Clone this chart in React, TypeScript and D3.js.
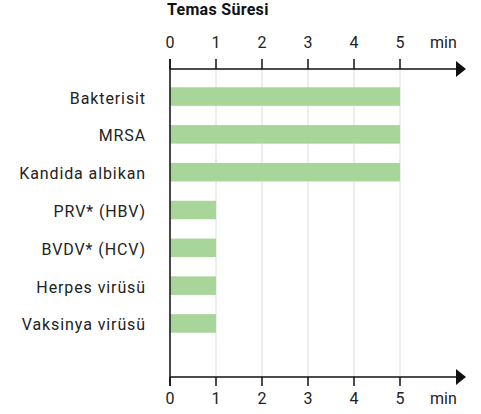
import React from "react";
import * as d3 from "d3";

const categories = ["Bakterisit", "MRSA", "Kandida albikan", "PRV* (HBV)", "BVDV* (HCV)", "Herpes virüsü", "Vaksinya virüsü"];
const values = [5, 5, 5, 1, 1, 1, 1];
const ticks = [0, 1, 2, 3, 4, 5];
const title = "Temas Süresi";
const unit = "min";

export default function App() {
  const W = 481, H = 414;
  const x = d3.scaleLinear().domain([0, 5]).range([170, 400]);
  const y = d3.scaleBand<string>().domain(categories).range([68, 352]).padding(0.51);
  const topY = 69, botY = 377;
  const font = "Roboto, 'Liberation Sans', sans-serif";
  const axisEnd = 458;
  return (
    <svg width={W} height={H} style={{ position: "absolute", left: 0, top: 0 }} fontFamily={font}>
      <rect width={W} height={H} fill="#fff" />
      <text x={167} y={15} fontSize={16} fontWeight="bold" fill="#111" letterSpacing={0.3}>{title}</text>
      {ticks.map((t) => (
        <line key={"g" + t} x1={x(t)} x2={x(t)} y1={topY} y2={botY} stroke="#dcdcdc" strokeWidth={1} />
      ))}
      {categories.map((c, i) => (
        <rect key={c} x={x(0)} y={y(c)!} width={x(values[i]) - x(0)} height={y.bandwidth()} fill="#a7d59a" />
      ))}
      {categories.map((c) => (
        <text key={"l" + c} x={146} y={y(c)! + y.bandwidth() / 2 + 7} textAnchor="end" fontSize={16} fill="#222" letterSpacing={0.9}>{c}</text>
      ))}
      {/* top axis */}
      <line x1={x(0)} x2={axisEnd} y1={topY} y2={topY} stroke="#111" strokeWidth={1.5} />
      <path d={`M${axisEnd - 2},${topY - 8} L466,${topY} L${axisEnd - 2},${topY + 8} Z`} fill="#111" />
      {ticks.map((t) => (
        <g key={"tt" + t}>
          <line x1={x(t)} x2={x(t)} y1={topY - 10} y2={topY} stroke="#111" strokeWidth={1.5} />
          <text x={x(t)} y={48} textAnchor="middle" fontSize={16} fill="#222">{t}</text>
        </g>
      ))}
      <text x={430} y={48} fontSize={16} fill="#222">{unit}</text>
      {/* bottom axis */}
      <line x1={x(0)} x2={axisEnd} y1={botY} y2={botY} stroke="#111" strokeWidth={1.5} />
      <path d={`M${axisEnd - 2},${botY - 8} L466,${botY} L${axisEnd - 2},${botY + 8} Z`} fill="#111" />
      {ticks.map((t) => (
        <g key={"bt" + t}>
          <line x1={x(t)} x2={x(t)} y1={botY} y2={botY + 9} stroke="#111" strokeWidth={1.5} />
          <text x={x(t)} y={404} textAnchor="middle" fontSize={16} fill="#222">{t}</text>
        </g>
      ))}
      <text x={430} y={404} fontSize={16} fill="#222">{unit}</text>
      {/* left axis */}
      <line x1={x(0)} x2={x(0)} y1={topY - 10} y2={botY + 9} stroke="#111" strokeWidth={1.5} />
    </svg>
  );
}
